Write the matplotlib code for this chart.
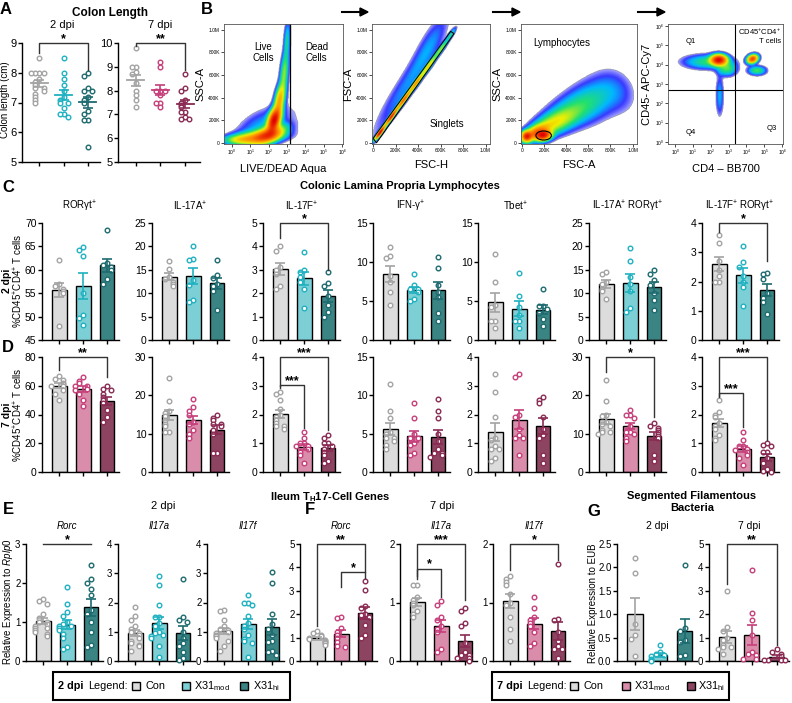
import matplotlib
matplotlib.use("Agg")
import matplotlib.pyplot as plt
import numpy as np
from matplotlib.colors import LinearSegmentedColormap
from matplotlib.patches import Ellipse, Polygon, Rectangle

plt.rcParams["font.family"] = ["Liberation Sans", "DejaVu Sans"]
plt.rcParams["mathtext.fontset"] = "custom"
plt.rcParams["mathtext.rm"] = "Liberation Sans"
plt.rcParams["mathtext.it"] = "Liberation Sans:italic"
plt.rcParams["mathtext.bf"] = "Liberation Sans:bold"

W, H = 792, 703

# ---------------- data ----------------
# A: colon length (cm)
colon_2dpi = [
    [8.5, 8.0, 8.0, 8.0, 8.0, 7.8, 7.7, 7.6, 7.5, 7.5, 7.4, 7.3, 7.2, 7.1, 7.0],
    [8.5, 8.0, 7.8, 7.6, 7.4, 7.2, 7.1, 7.0, 7.0, 6.8, 6.6, 6.6, 6.5],
    [8.0, 7.9, 7.5, 7.4, 7.4, 7.2, 7.1, 7.0, 6.7, 6.6, 6.4, 6.4, 5.5],
]
colon_7dpi = [
    [9.8, 9.0, 9.0, 8.8, 8.7, 8.3, 8.0, 7.8, 7.6, 7.3],
    [9.2, 9.0, 8.0, 8.0, 8.0, 7.8, 7.5, 7.5, 7.3],
    [8.7, 8.1, 8.0, 7.6, 7.5, 7.4, 7.3, 7.1, 7.1, 6.9, 6.8, 6.8],
]

# C / D: colonic lamina propria lymphocytes (% of CD45+CD4+ T cells)
lp_titles = ["RORγt$^{+}$", "IL-17A$^{+}$", "IL-17F$^{+}$", "IFN-γ$^{+}$",
             "Tbet$^{+}$", "IL-17A$^{+}$ RORγt$^{+}$", "IL-17F$^{+}$ RORγt$^{+}$"]

c_rorgt = [[62, 57, 56.5, 56, 55.5, 55, 48],
           [64.8, 64.3, 63, 55, 50.3, 49.7, 48.2],
           [68.5, 61.5, 61, 60.5, 60, 58, 57]]
c_il17a = [[16.8, 15.2, 13.5, 13, 12.5, 12, 11.5],
           [20, 17.4, 17.2, 12.8, 11.8, 8.5, 8.2],
           [17.2, 13.8, 13.2, 12.0, 11.5, 10.5, 6.5]]
c_il17f = [[4.0, 3.8, 3.1, 3.0, 2.8, 2.3, 2.2],
           [3.75, 3.0, 2.9, 2.7, 2.5, 2.2, 1.35],
           [2.9, 2.45, 2.3, 1.9, 1.5, 1.2, 1.0]]
c_ifng = [[11.9, 10.8, 10.5, 8.2, 7.5, 6.2, 4.5],
          [8.5, 7.0, 6.5, 6.5, 6.2, 5.2, 5.0],
          [10.7, 9.2, 7.0, 6.2, 5.5, 3.5, 2.5]]
c_tbet = [[11.0, 7.5, 4.5, 4.2, 2.5, 2.5, 1.5],
          [8.6, 5.7, 4.2, 3.2, 2.5, 2.5, 1.5],
          [6.5, 4.4, 4.3, 4.0, 3.5, 2.7, 1.8]]
c_il17a_rorgt = [[14.6, 14.2, 12.5, 12.0, 11.0, 10.5, 8.8],
                 [19.7, 16.8, 13.5, 12.0, 10.5, 6.8, 6.0],
                 [15.0, 14.0, 12.8, 11.8, 10.0, 8.5, 6.5]]
c_il17f_rorgt = [[3.6, 3.3, 2.7, 2.4, 2.2, 2.0, 2.0],
                 [3.2, 2.65, 2.5, 2.2, 2.0, 1.8, 1.15],
                 [2.3, 2.25, 2.1, 1.6, 1.45, 1.3, 0.9]]

d_rorgt = [[67, 65, 64, 62, 61, 60, 60, 57, 54, 50],
           [66, 63, 62, 60, 60, 58, 57, 54, 50, 46],
           [60, 58, 57, 54, 52, 50, 48, 43, 38, 35]]
d_il17a = [[24.5, 18.5, 16, 15.5, 14.5, 13.5, 12.5, 12, 10.5, 10.5],
           [19, 17, 16, 15, 13, 12.5, 11, 10, 9],
           [15, 14, 13.5, 12.5, 12.5, 12, 11, 10, 5, 5]]
d_il17f = [[2.8, 2.7, 2.5, 2.2, 2.0, 1.9, 1.8, 1.7, 1.6, 1.6, 1.5],
           [1.4, 1.2, 1.0, 1.0, 0.9, 0.9, 0.8, 0.7, 0.6, 0.3],
           [1.3, 1.2, 1.0, 1.0, 0.9, 0.8, 0.7, 0.6, 0.4, 0.3]]
d_ifng = [[11.5, 8, 7, 5.2, 5, 4.5, 4.5, 4, 3.5, 3],
          [9, 7, 5, 4.5, 4.5, 3.8, 3.5, 2.5, 2.2],
          [9.5, 8.0, 7.0, 5.0, 4.0, 3.0, 2.5, 2.5, 2.2, 2.0]]
d_tbet = [[3.4, 2.8, 1.9, 1.2, 1.1, 0.9, 0.8, 0.8, 0.5, 0.4],
          [3.4, 3.3, 2.0, 1.9, 1.5, 1.3, 1.2, 1.2, 0.6],
          [2.6, 2.5, 2.4, 1.9, 1.5, 1.3, 1.2, 0.6, 0.3]]
d_il17a_rorgt = [[24, 18.5, 15, 14.5, 13, 12.5, 12, 11, 10.5, 10.5, 10],
                 [16.3, 14.8, 14.8, 14.0, 12, 10.5, 10.5, 10, 9, 8],
                 [12.8, 12, 11.5, 11, 10.5, 10.0, 9.5, 9, 4.5, 3.0]]
d_il17f_rorgt = [[2.5, 2.1, 2.0, 1.9, 1.7, 1.6, 1.5, 1.3, 1.2, 1.1],
                 [1.4, 1.1, 0.9, 0.9, 0.8, 0.75, 0.7, 0.6, 0.5, 0.25],
                 [1.0, 0.95, 0.9, 0.7, 0.7, 0.5, 0.4, 0.3, 0.1, 0.05, 0.0]]

c_sets = [c_rorgt, c_il17a, c_il17f, c_ifng, c_tbet, c_il17a_rorgt, c_il17f_rorgt]
d_sets = [d_rorgt, d_il17a, d_il17f, d_ifng, d_tbet, d_il17a_rorgt, d_il17f_rorgt]
c_axes = [(45, 70, 5), (0, 25, 5), (0, 5, 1), (0, 15, 5), (0, 15, 5), (0, 25, 5), (0, 4, 1)]
d_axes = [(0, 80, 20), (0, 30, 10), (0, 4, 1), (0, 15, 5), (0, 4, 1), (0, 30, 10), (0, 4, 1)]
# (group a, group b, bar height, leg end a, leg end b, label)
c_sig = [[], [], [(0, 2, 5.0, 4.35, 3.0, "*")], [], [], [], [(0, 2, 4.0, 3.7, 2.7, "*")]]
d_sig = [[(0, 2, 80, 71, 66, "**")], [],
         [(0, 2, 4.0, 3.0, 1.45, "***"), (0, 1, 3.03, 2.92, 1.53, "***")],
         [], [], [(0, 2, 30, 26, 14.3, "*")],
         [(0, 2, 4.0, 2.65, 1.1, "***"), (0, 1, 2.75, 2.6, 1.57, "***")]]

# E / F: ileum Th17 genes, relative expression to Rplp0
gene_titles = ["Rorc", "Il17a", "Il17f"]
e_rorc = [[1.58, 1.55, 1.45, 1.2, 1.1, 1.0, 1.0, 0.95, 0.9, 0.85, 0.85, 0.8, 0.75, 0.7, 0.65],
          [1.9, 1.45, 1.25, 1.15, 1.0, 0.95, 0.9, 0.9, 0.85, 0.8, 0.7, 0.6, 0.35, 0.3],
          [2.45, 2.1, 2.0, 1.85, 1.7, 1.3, 1.2, 1.0, 0.75, 0.4, 0.35]]
e_il17a = [[1.85, 1.55, 1.4, 1.2, 1.1, 1.0, 0.95, 0.9, 0.8, 0.7, 0.6, 0.55, 0.5, 0.35],
           [2.9, 2.6, 1.9, 1.5, 1.5, 1.3, 1.2, 1.0, 0.95, 0.9, 0.85, 0.8, 0.5, 0.15],
           [2.8, 1.5, 1.4, 1.35, 1.0, 0.8, 0.6, 0.5, 0.3, 0.1, 0.05]]
e_il17f = [[1.75, 1.7, 1.4, 1.2, 1.1, 1.05, 1.0, 0.95, 0.9, 0.85, 0.8, 0.7, 0.5, 0.35],
           [2.25, 2.0, 2.0, 1.9, 1.55, 1.3, 1.2, 1.1, 0.9, 0.75, 0.7, 0.6, 0.15],
           [3.05, 2.65, 1.6, 1.25, 1.1, 0.9, 0.7, 0.65, 0.35, 0.3, 0.2]]
f_rorc = [[1.3, 1.2, 1.1, 1.05, 1.0, 0.95, 0.9, 0.85, 0.8, 0.75, 0.7],
          [1.9, 1.85, 1.4, 1.25, 1.1, 1.0, 0.8, 0.65, 0.6],
          [3.4, 3.05, 2.35, 2.25, 2.0, 1.95, 1.9, 1.55, 1.1, 1.0]]
f_il17a = [[1.3, 1.3, 1.1, 1.05, 1.0, 0.95, 0.85, 0.8, 0.75],
           [1.02, 0.95, 0.75, 0.7, 0.6, 0.55, 0.5, 0.2, 0.15],
           [0.9, 0.85, 0.65, 0.6, 0.3, 0.15, 0.1, 0.1, 0.05, 0.05, 0.0]]
f_il17f = [[1.45, 1.4, 1.35, 1.3, 1.15, 1.0, 0.95, 0.75, 0.55, 0.35],
           [1.1, 0.9, 0.75, 0.7, 0.65, 0.6, 0.5, 0.3, 0.25],
           [1.65, 0.72, 0.7, 0.5, 0.35, 0.25, 0.2, 0.2, 0.05]]
e_sets = [e_rorc, e_il17a, e_il17f]
f_sets = [f_rorc, f_il17a, f_il17f]
e_axes = [(0, 3, 1), (0, 4, 1), (0, 4, 1)]
f_axes = [(0, 5, 1), (0, 2, 1), (0, 2, 1)]
e_sig = [[(0, 2, 3.0, 3.0, 3.0, "*")], [], []]
f_sig = [[(0, 2, 5.0, 1.5, 3.8, "**"), (1, 2, 3.8, 3.15, 3.55, "*")],
         [(0, 2, 2.0, 1.4, 1.05, "***"), (0, 1, 1.58, 1.45, 1.1, "*")],
         [(0, 2, 2.0, 1.55, 1.72, "*")]]

# G: segmented filamentous bacteria, relative expression to EUB
g_2dpi = [[2.2, 1.87, 0.8, 0.55, 0.48, 0.1],
          [0.35, 0.2, 0.15, 0.12, 0.1, 0.05, 0.02, 0.0],
          [2.05, 0.7, 0.65, 0.45, 0.4, 0.12, 0.1]]
g_7dpi = [[3.0, 1.45, 1.3, 1.0, 0.9, 0.7, 0.6, 0.6, 0.5, 0.3],
          [3.9, 2.05, 1.75, 1.1, 0.4, 0.3, 0.25, 0.1, 0.1],
          [0.5, 0.4, 0.3, 0.2, 0.1, 0.05, 0.05, 0.05, 0.05]]
g_axes = [(0, 2.5, 0.5), (0, 5, 1)]
g_sig = [[], [(0, 2, 5.0, 3.3, 0.7, "**")]]

# B: flow gating, density blobs (x, y, spread along, spread across, angle, weight)
live_dead_blobs = [(2.3, 200, 0.06, 0.028, 72, 1.0), (2.0, 70, 0.08, 0.035, 20, 0.6),
                   (1.3, 45, 0.12, 0.03, 5, 0.3), (0.5, 25, 0.08, 0.022, 0, 0.15),
                   (2.6, 380, 0.08, 0.024, 80, 0.35), (2.85, 620, 0.1, 0.02, 85, 0.15),
                   (3.0, 900, 0.1, 0.016, 87, 0.08), (3.8, 250, 0.25, 0.1, 80, 0.006),
                   (1.6, 130, 0.15, 0.08, 30, 0.05)]
singlet_blobs = [(60, 90, 0.04, 0.009, 54, 1.0), (160, 230, 0.05, 0.009, 54, 0.8),
                 (270, 380, 0.06, 0.01, 54, 0.55), (380, 530, 0.06, 0.011, 54, 0.4),
                 (490, 680, 0.06, 0.012, 54, 0.25), (600, 830, 0.06, 0.012, 54, 0.15),
                 (690, 960, 0.04, 0.011, 56, 0.08), (280, 490, 0.3, 0.05, 57, 0.035),
                 (500, 870, 0.18, 0.05, 62, 0.03)]
lymph_blobs = [(190, 65, 0.04, 0.025, 10, 1.0), (40, 55, 0.025, 0.025, 0, 0.8),
               (120, 90, 0.07, 0.03, 25, 0.5), (280, 170, 0.13, 0.05, 25, 0.22),
               (450, 280, 0.17, 0.08, 28, 0.1), (650, 380, 0.15, 0.11, 30, 0.05),
               (850, 450, 0.1, 0.13, 40, 0.025)]
cd4_blobs = [(2.45, 4.25, 0.04, 0.025, 0, 1.0), (1.8, 4.15, 0.12, 0.035, 0, 0.1),
             (2.9, 3.8, 0.05, 0.035, 0, 0.12), (4.35, 4.3, 0.028, 0.02, 20, 0.7),
             (4.6, 3.7, 0.045, 0.022, 0, 0.12), (2.5, 2.4, 0.1, 0.02, 90, 0.05)]

# ---------------- style ----------------
gray_face, gray_pt = "#dcdcdc", "#a3a3a3"
faces_2dpi = [gray_face, "#7dcfd6", "#3a8483"]
pts_2dpi = [gray_pt, "#1fb1c0", "#1d6b70"]
faces_7dpi = [gray_face, "#d98dab", "#8c4461"]
pts_7dpi = [gray_pt, "#c63e7a", "#8a2a53"]

flow_cmap = LinearSegmentedColormap.from_list(
    "flow", ["#a8a8ff", "#3838ff", "#00b8ff", "#20e070", "#f0f000", "#ff8000", "#e00000"])
FLOW_FLOOR = -2.0

fig = plt.figure(figsize=(W / 100, H / 100), dpi=100)


def px_axes(x0, y0, x1, y1):
    return fig.add_axes([x0 / W, 1 - y1 / H, (x1 - x0) / W, (y1 - y0) / H])


def ftext(x, y, s, **kw):
    kw.setdefault("ha", "center")
    kw.setdefault("va", "center")
    fig.text(x / W, 1 - y / H, s, **kw)


def spread(vals, step, width=0.17):
    vals = np.asarray(vals, float)
    offs = np.zeros(len(vals))
    placed = []
    for i in np.argsort(-vals, kind="stable"):
        k = sum(1 for j in placed if abs(vals[j] - vals[i]) < step)
        m = (k + 1) // 2
        offs[i] = width * m * (1 if k % 2 == 0 else -1)
        placed.append(i)
    return offs


def style(ax, lims, fs):
    lo, hi, st = lims
    ax.set_ylim(lo, hi)
    ticks = np.arange(lo, hi + st / 2, st)
    ax.set_yticks(ticks)
    if st < 1:
        ax.set_yticklabels([f"{t:.1f}" for t in ticks])
    else:
        ax.set_yticklabels([f"{t:g}" for t in ticks])
    ax.set_xlim(-0.72, 2.5)
    ax.set_xticks([0, 1, 2])
    ax.set_xticklabels([])
    ax.spines["top"].set_visible(False)
    ax.spines["right"].set_visible(False)
    for s in ["left", "bottom"]:
        ax.spines[s].set_linewidth(1.0)
    ax.tick_params(length=3, width=1.0, labelsize=fs, pad=1)
    ax.patch.set_alpha(0)


def bars(ax, groups, faces, pts, lims):
    lo, hi, st = lims
    for k, vals in enumerate(groups):
        v = np.asarray(vals, float)
        m = v.mean()
        se = v.std(ddof=1) / np.sqrt(len(v))
        ax.bar(k, m, 0.62, color=faces[k], edgecolor="black", linewidth=1.0, zorder=1)
        offs = spread(v, (hi - lo) * 0.045)
        ax.scatter(k + offs, v, s=11, facecolor="white", edgecolor=pts[k],
                   linewidth=1.0, zorder=3, clip_on=False)
        ax.errorbar(k, m, yerr=se, color=pts[k], capsize=3.5, lw=1.2,
                    capthick=1.2, zorder=4)


def dots(ax, groups, pts, lims):
    lo, hi, st = lims
    for k, vals in enumerate(groups):
        v = np.asarray(vals, float)
        m = v.mean()
        se = v.std(ddof=1) / np.sqrt(len(v))
        offs = spread(v, (hi - lo) * 0.03)
        ax.scatter(k + offs, v, s=11, facecolor="white", edgecolor=pts[k],
                   linewidth=1.0, zorder=3, clip_on=False)
        ax.plot([k - 0.35, k + 0.35], [m, m], color=pts[k], lw=1.3, zorder=4)
        ax.errorbar(k, m, yerr=se, color=pts[k], capsize=3.5, lw=1.2,
                    capthick=1.2, zorder=4)


def brackets(ax, sig, fs=9):
    for a, b, y, ea, eb, lab in sig:
        ax.plot([a, a, b, b], [ea, y, y, eb], color="#333333", lw=1.0,
                clip_on=False, zorder=5)
        ax.annotate(lab, ((a + b) / 2, y), xytext=(0, -1.5), textcoords="offset points",
                    ha="center", va="bottom", fontsize=fs, fontweight="bold",
                    annotation_clip=False)


def density(ax, blobs, xlim, ylim, n=240):
    xs = np.linspace(xlim[0], xlim[1], n)
    ys = np.linspace(ylim[0], ylim[1], n)
    X, Y = np.meshgrid(xs, ys)
    fx = (X - xlim[0]) / (xlim[1] - xlim[0])
    fy = (Y - ylim[0]) / (ylim[1] - ylim[0])
    D = np.zeros_like(X)
    for cx, cy, sa, sp, ang, w in blobs:
        t = np.deg2rad(ang)
        dx = fx - (cx - xlim[0]) / (xlim[1] - xlim[0])
        dy = fy - (cy - ylim[0]) / (ylim[1] - ylim[0])
        u = dx * np.cos(t) + dy * np.sin(t)
        v = -dx * np.sin(t) + dy * np.cos(t)
        D += w * np.exp(-0.5 * ((u / sa) ** 2 + (v / sp) ** 2))
    L = np.log10(D / D.max() + 1e-12)
    L = np.ma.masked_less(L, FLOW_FLOOR)
    ax.imshow(L, extent=[xlim[0], xlim[1], ylim[0], ylim[1]], origin="lower",
              aspect="auto", cmap=flow_cmap, vmin=FLOW_FLOOR, vmax=0,
              interpolation="bilinear")
    ax.set_xlim(*xlim)
    ax.set_ylim(*ylim)
    for s in ax.spines.values():
        s.set_linewidth(0.6)
        s.set_color("#555555")
    ax.tick_params(length=2, width=0.5, labelsize=3.5, pad=1)


def lin_ticks(ax, axis):
    vals = [0, 200, 400, 600, 800, 1000]
    labs = ["0", "200K", "400K", "600K", "800K", "1.0M"]
    if axis == "x":
        ax.set_xticks(vals)
        ax.set_xticklabels(labs)
    else:
        ax.set_yticks(vals)
        ax.set_yticklabels(labs)


def log_ticks(ax, axis):
    vals = list(range(7))
    labs = [f"$10^{{{k}}}$" for k in vals]
    if axis == "x":
        ax.set_xticks(vals)
        ax.set_xticklabels(labs)
    else:
        ax.set_yticks(vals)
        ax.set_yticklabels(labs)


# ---------------- panel A ----------------
ftext(6, 9, "A", fontsize=12, fontweight="bold")
ftext(110, 13, "Colon Length", fontsize=8.5, fontweight="bold")
ax = px_axes(22, 43, 100, 162)
style(ax, (5, 9, 1), 8)
dots(ax, colon_2dpi, pts_2dpi, (5, 9, 1))
brackets(ax, [(0, 2, 9.0, 8.68, 8.1, "*")])
ftext(62, 25, "2 dpi", fontsize=8)
ftext(5, 100, "Colon length (cm)", fontsize=7, rotation=90)
ax = px_axes(118, 43, 200, 162)
style(ax, (5, 10, 1), 8)
ax.set_xlim(-0.72, 2.6)
dots(ax, colon_7dpi, pts_7dpi, (5, 10, 1))
brackets(ax, [(0, 2, 10.0, 9.88, 8.85, "**")])
ftext(160, 25, "7 dpi", fontsize=8)

# ---------------- panel B ----------------
ftext(207, 9, "B", fontsize=12, fontweight="bold")
for x0, x1 in [(342, 368), (493, 520), (638, 665)]:
    fig.add_artist(plt.Line2D([x0 / W, (x1 - 6) / W], [1 - 12 / H, 1 - 12 / H],
                              color="black", lw=1.5))
    fig.add_artist(Polygon([[(x1 - 8) / W, 1 - 8 / H], [x1 / W, 1 - 12 / H],
                            [(x1 - 8) / W, 1 - 16 / H]], closed=True,
                           transform=fig.transFigure, color="black"))

ax = px_axes(224, 24, 343, 144)
density(ax, live_dead_blobs, (-0.43, 6.05), (-10, 1050))
log_ticks(ax, "x")
lin_ticks(ax, "y")
ax.axvline(3.15, color="black", lw=0.9)
ax.text(1.7, 800, "Live\nCells", ha="center", va="center", fontsize=7, linespacing=1.1)
ax.text(4.6, 800, "Dead\nCells", ha="center", va="center", fontsize=7, linespacing=1.1)
ax.set_xlabel("LIVE/DEAD Aqua", fontsize=8, labelpad=5)
ax.set_ylabel("SSC-A", fontsize=8, labelpad=2)

ax = px_axes(372, 24, 490, 144)
density(ax, singlet_blobs, (-10, 1040), (-10, 1050))
lin_ticks(ax, "x")
lin_ticks(ax, "y")
ax.add_patch(Polygon([(0, 40), (690, 985), (720, 965), (30, 0)], closed=True,
                     fill=False, edgecolor="black", lw=0.7))
ax.text(660, 170, "Singlets", ha="center", va="center", fontsize=7)
ax.set_xlabel("FSC-H", fontsize=8, labelpad=5)
ax.set_ylabel("FSC-A", fontsize=8, labelpad=2)

ax = px_axes(521, 24, 637, 144)
density(ax, lymph_blobs, (-10, 1040), (-10, 1050))
lin_ticks(ax, "x")
lin_ticks(ax, "y")
ax.add_patch(Ellipse((195, 65), 140, 80, fill=False, edgecolor="black", lw=0.8))
ax.text(100, 880, "Lymphocytes", ha="left", va="center", fontsize=7)
ax.set_xlabel("FSC-A", fontsize=8, labelpad=5)
ax.set_ylabel("SSC-A", fontsize=8, labelpad=2)

ax = px_axes(668, 24, 783, 144)
density(ax, cd4_blobs, (-0.4, 6.05), (-0.1, 6.1))
log_ticks(ax, "x")
log_ticks(ax, "y")
ax.axvline(3.37, color="black", lw=0.8)
ax.axhline(2.7, color="black", lw=0.8)
ax.text(0.9, 5.2, "Q1", ha="center", va="center", fontsize=5.5)
ax.text(0.9, 0.5, "Q4", ha="center", va="center", fontsize=5.5)
ax.text(5.4, 0.7, "Q3", ha="center", va="center", fontsize=5.5)
ax.text(5.95, 5.5, "CD45$^{+}$CD4$^{+}$\nT cells", ha="right", va="center",
        fontsize=5.5, linespacing=1.1)
ax.set_xlabel("CD4 – BB700", fontsize=8, labelpad=5)
ax.set_ylabel("CD45- APC-Cy7", fontsize=8, labelpad=2)

# ---------------- panels C / D ----------------
ftext(8, 188, "C", fontsize=12, fontweight="bold")
ftext(8, 347, "D", fontsize=12, fontweight="bold")
ftext(400, 186, "Colonic Lamina Propria Lymphocytes", fontsize=8, fontweight="bold")
lp_lefts = [42, 152, 263, 373, 478, 589, 702]
for i in range(7):
    x0 = lp_lefts[i]
    ax = px_axes(x0, 223, x0 + 77, 340)
    style(ax, c_axes[i], 7.5)
    bars(ax, c_sets[i], faces_2dpi, pts_2dpi, c_axes[i])
    brackets(ax, c_sig[i])
    ftext(x0 + 38, 206, lp_titles[i], fontsize=7)
    ax = px_axes(x0, 357, x0 + 77, 472)
    style(ax, d_axes[i], 7.5)
    bars(ax, d_sets[i], faces_7dpi, pts_7dpi, d_axes[i])
    brackets(ax, d_sig[i])
for yc, day in [(281, "2 dpi"), (415, "7 dpi")]:
    ftext(7, yc, day, fontsize=7.5, fontweight="bold", rotation=90)
    ftext(18, yc, "%CD45$^{+}$CD4$^{+}$ T cells", fontsize=7, rotation=90)

# ---------------- panels E / F ----------------
ftext(8, 510, "E", fontsize=12, fontweight="bold")
ftext(310, 510, "F", fontsize=12, fontweight="bold")
ftext(330, 497, "Ileum T$_{\\mathbf{H}}$17-Cell Genes", fontsize=8, fontweight="bold")
ftext(163, 506, "2 dpi", fontsize=8)
ftext(442, 506, "7 dpi", fontsize=8)
ftext(8, 602, "Relative Expression to $\\it{Rplp0}$", fontsize=7, rotation=90)
e_lefts = [26, 118, 207]
f_lefts = [300, 400, 493]
for i in range(3):
    x0 = e_lefts[i]
    ax = px_axes(x0, 544, x0 + 77, 661)
    style(ax, e_axes[i], 7)
    bars(ax, e_sets[i], faces_2dpi, pts_2dpi, e_axes[i])
    brackets(ax, e_sig[i])
    ftext(x0 + 41, 526, gene_titles[i], fontsize=7, style="italic")
    x0 = f_lefts[i]
    ax = px_axes(x0, 544, x0 + 77, 661)
    style(ax, f_axes[i], 7)
    bars(ax, f_sets[i], faces_7dpi, pts_7dpi, f_axes[i])
    brackets(ax, f_sig[i])
    ftext(x0 + 41, 526, gene_titles[i], fontsize=7, style="italic")

# ---------------- panel G ----------------
ftext(594, 511, "G", fontsize=12, fontweight="bold")
ftext(692, 502, "Segmented Filamentous\nBacteria", fontsize=8, fontweight="bold",
      linespacing=1.3)
ftext(657, 526, "2 dpi", fontsize=7.5)
ftext(749, 526, "7 dpi", fontsize=7.5)
ftext(593, 603, "Relative Expression to EUB", fontsize=7, rotation=90)
ax = px_axes(617, 544, 697, 661)
style(ax, g_axes[0], 7)
bars(ax, g_2dpi, faces_2dpi, pts_2dpi, g_axes[0])
ax = px_axes(709, 544, 789, 661)
style(ax, g_axes[1], 7)
bars(ax, g_7dpi, faces_7dpi, pts_7dpi, g_axes[1])
brackets(ax, g_sig[1])


# ---------------- legends ----------------
def legend_box(x0, x1, day, faces, sq_x, txt_x):
    y0, y1 = 672, 700
    fig.add_artist(Rectangle((x0 / W, 1 - y1 / H), (x1 - x0) / W, (y1 - y0) / H,
                             transform=fig.transFigure, fill=False,
                             edgecolor="black", lw=1.5))
    ftext(x0 + 5, 686, day, fontsize=7.8, fontweight="bold", ha="left")
    ftext(x0 + 35, 686, "Legend:", fontsize=7.8, ha="left")
    names = ["Con", "X31$_{\\mathrm{mod}}$", "X31$_{\\mathrm{hi}}$"]
    for k in range(3):
        fig.add_artist(Rectangle((sq_x[k] / W, 1 - 690 / H), 8 / W, 8 / H,
                                 transform=fig.transFigure, facecolor=faces[k],
                                 edgecolor="black", lw=1.0))
        ftext(txt_x[k], 686, names[k], fontsize=7.8, ha="left")


legend_box(53, 290, "2 dpi", faces_2dpi, [132, 182, 240], [146, 194, 253])
legend_box(492, 729, "7 dpi", faces_7dpi, [570, 622, 687], [584, 634, 698])

fig.savefig("out.png", dpi=100)
